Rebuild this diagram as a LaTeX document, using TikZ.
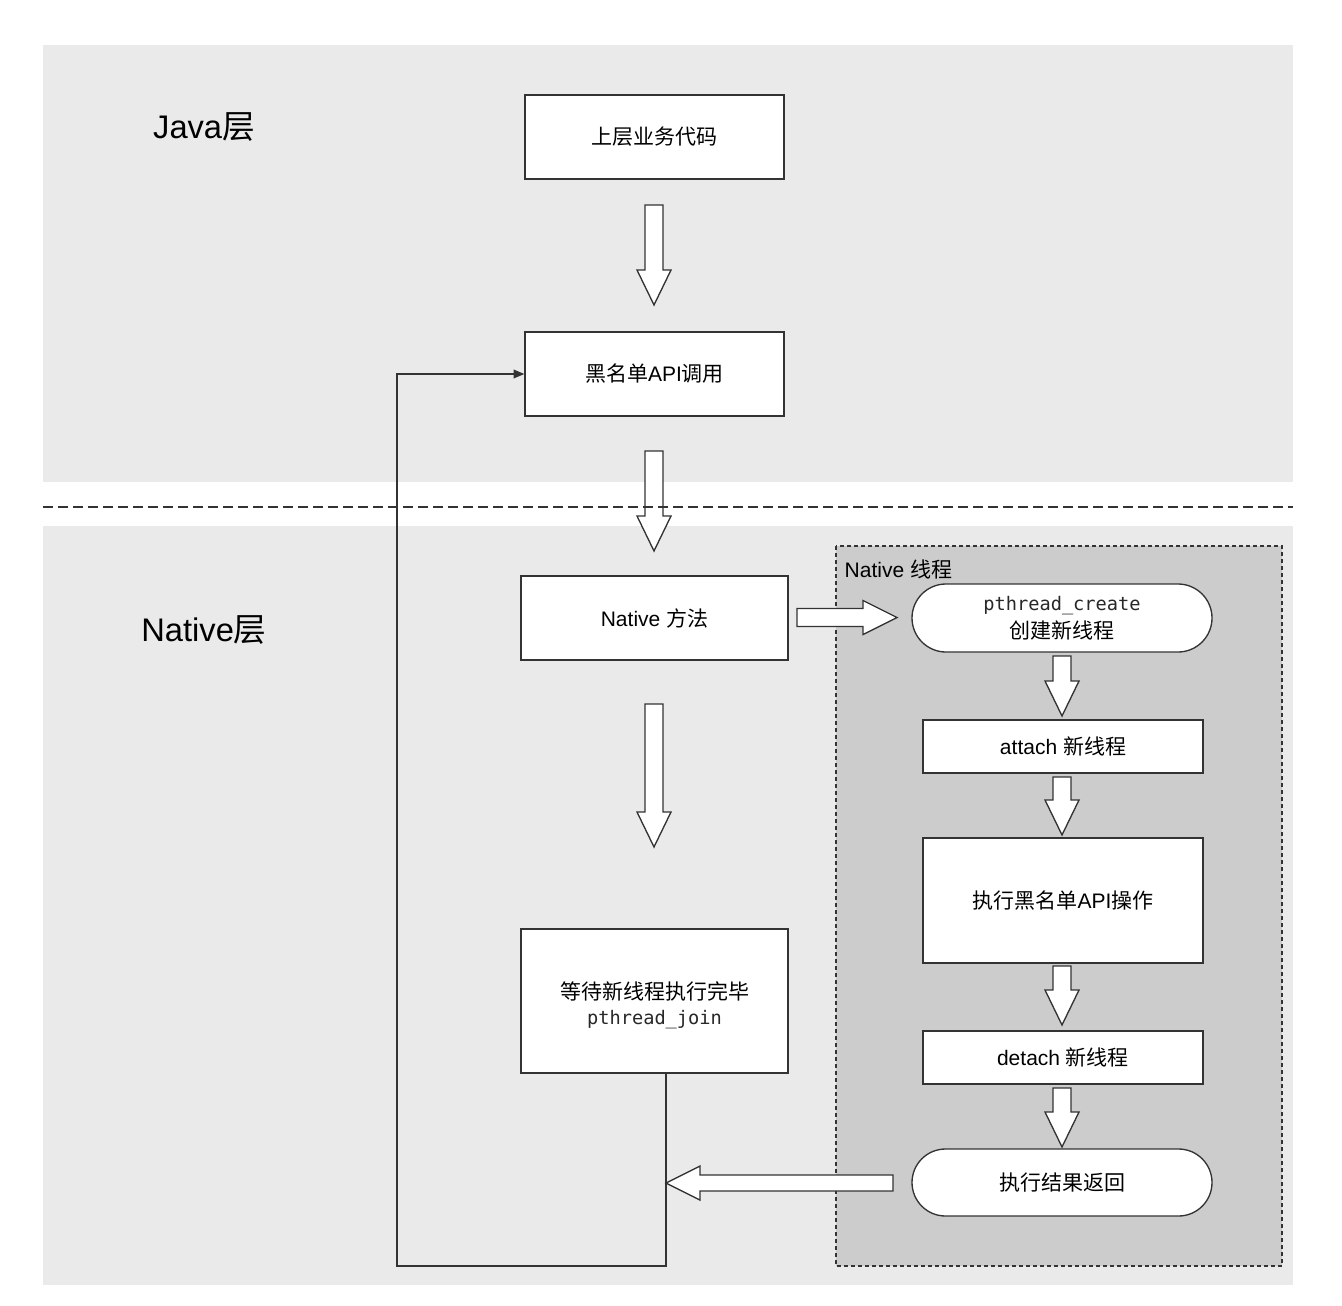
\documentclass[tikz,border=0pt]{standalone}
\usepackage{fontspec}
\setmainfont{Liberation Sans}
\newfontfamily\cjk{Noto Sans CJK SC}
\newfontfamily\code{DejaVu Sans Mono}
\usetikzlibrary{shapes.misc,arrows.meta,calc}

\definecolor{band}{RGB}{234,234,234}
\definecolor{thread}{RGB}{204,204,204}
\definecolor{edge}{RGB}{51,51,51}
\definecolor{codegray}{RGB}{40,40,40}

% Chinese text inside Latin text
\newcommand\zh[1]{{\cjk #1}}
% monospaced code label
\newcommand\mono[1]{{\code\fontsize{14}{18}\selectfont\color{codegray}#1}}

% hollow block arrow, vertical, from #1 (tail) down to #2 (tip)
\newcommand\blkv[2]{\draw[blk] let \p1=(#1), \p2=(#2) in
  (\x1-6.75pt,\y1) -- (\x1+6.75pt,\y1) -- (\x1+6.75pt,\y2+26.25pt)
  -- (\x1+12.75pt,\y2+26.25pt) -- (\x1,\y2) -- (\x1-12.75pt,\y2+26.25pt)
  -- (\x1-6.75pt,\y2+26.25pt) -- cycle;}
% hollow block arrow pointing right
\newcommand\blkr[2]{\draw[blk] let \p1=(#1), \p2=(#2) in
  (\x1,\y1+6.75pt) -- (\x1,\y1-6.75pt) -- (\x2-25.5pt,\y1-6.75pt)
  -- (\x2-25.5pt,\y1-12.75pt) -- (\x2,\y1) -- (\x2-25.5pt,\y1+12.75pt)
  -- (\x2-25.5pt,\y1+6.75pt) -- cycle;}
% hollow block arrow pointing left
\newcommand\blkl[2]{\draw[blk] let \p1=(#1), \p2=(#2) in
  (\x1,\y1+6pt) -- (\x1,\y1-6pt) -- (\x2+25.5pt,\y1-6pt)
  -- (\x2+25.5pt,\y1-12.75pt) -- (\x2,\y1) -- (\x2+25.5pt,\y1+12.75pt)
  -- (\x2+25.5pt,\y1+6pt) -- cycle;}

\begin{document}
\begin{tikzpicture}[x=0.75pt,y=-0.75pt,
  every node/.style={font=\fontsize{15.75}{19.5}\selectfont, text=black},
  box/.style={draw=edge, line width=1pt, fill=white, rectangle, inner sep=0pt, align=center},
  term/.style={draw=edge, line width=1pt, fill=white, rounded rectangle, inner sep=0pt, align=center},
  blk/.style={draw=edge, line width=1pt, fill=white, line join=miter},
  link/.style={draw=edge, line width=1pt},
  heading/.style={font=\fontsize{24.5}{29}\selectfont}]

\path[use as bounding box, fill=white] (0,0) rectangle (1342,1306);

% layer bands
\fill[band] (43,45) rectangle (1293,482);
\fill[band] (43,526) rectangle (1293,1285);

% native thread container
\draw[fill=thread, draw=edge, line width=1pt, dash pattern=on 3pt off 2.25pt]
  (836,546) rectangle (1282,1266);
\node[anchor=west] (thrlabel) at (840,569) {Native \zh{线程}};

% layer titles
\node[heading] (java) at (204,127) {Java\zh{层}};
\node[heading] (native) at (204,630) {Native\zh{层}};

% Java layer
\node[box, minimum width=194.25pt, minimum height=63pt] (top) at (654.5,137) {\zh{上层业务代码}};
\node[box, minimum width=194.25pt, minimum height=63pt] (api) at (654.5,374) {\zh{黑名单}API\zh{调用}};

% Native layer
\node[box, minimum width=200.25pt, minimum height=63pt] (nat) at (654.5,618) {Native \zh{方法}};
\node[box, minimum width=200.25pt, minimum height=108pt] (wait) at (654.5,1001)
  {\rule{0pt}{20pt}\zh{等待新线程执行完毕}\\[-1pt]\mono{pthread\_join}};

% thread steps
\node[term, minimum width=225pt, minimum height=51pt] (create) at (1062,618)
  {\mono{pthread\_create}\\[1.5pt]\zh{创建新线程}};
\node[box, minimum width=210pt, minimum height=39.75pt] (attach) at (1063,746.5) {attach \zh{新线程}};
\node[box, minimum width=210pt, minimum height=93.75pt] (exec) at (1063,900.5) {\zh{执行黑名单}API\zh{操作}};
\node[box, minimum width=210pt, minimum height=39.75pt] (detach) at (1063,1057.5) {detach \zh{新线程}};
\node[term, minimum width=225pt, minimum height=50.25pt] (ret) at (1062,1182.5) {\zh{执行结果返回}};

% block arrow end points
\coordinate (a1s) at (654,205);  \coordinate (a1e) at (654,305);
\coordinate (a2s) at (654,451);  \coordinate (a2e) at (654,551);
\coordinate (a3s) at (654,704);  \coordinate (a3e) at (654,847);
\coordinate (t1s) at (1062,656); \coordinate (t1e) at (1062,716);
\coordinate (t2s) at (1062,777); \coordinate (t2e) at (1062,835);
\coordinate (t3s) at (1062,966); \coordinate (t3e) at (1062,1025);
\coordinate (t4s) at (1062,1088);\coordinate (t4e) at (1062,1147);
\coordinate (rs) at (797,617.5); \coordinate (re) at (897,617.5);
\coordinate (ls) at (893,1183);  \coordinate (jx) at (666,1183);
\coordinate (lc) at (397,1266);

% return loop back to the API call
\draw[link, -{Triangle[length=8pt,width=6.5pt]}] (wait.south -| jx) |- (lc) |- (api.west);

% block arrows
\blkv{a1s}{a1e}
\blkv{a2s}{a2e}
\blkv{a3s}{a3e}
\blkv{t1s}{t1e}
\blkv{t2s}{t2e}
\blkv{t3s}{t3e}
\blkv{t4s}{t4e}
\blkr{rs}{re}
\blkl{ls}{jx}

% Java / Native boundary
\draw[draw=edge, line width=1pt, dash pattern=on 7.5pt off 3.75pt] (43,507) -- (1293,507);

\end{tikzpicture}
\end{document}
